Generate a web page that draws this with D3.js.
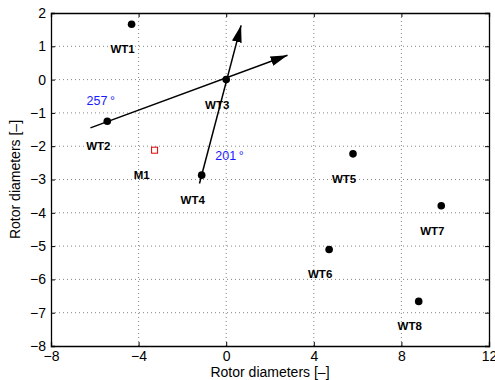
<!DOCTYPE html>
<html>
<head>
<meta charset="utf-8">
<script src="https://cdn.jsdelivr.net/npm/d3@7"></script>
<style>
  body { margin: 0; background: #fff; }
  text { font-family: "Liberation Sans", Arial, sans-serif; }
</style>
</head>
<body>
<svg id="chart" width="495" height="380"></svg>
<script>
// Turbine layout (rotor diameters)
const turbineNames = ['WT1', 'WT2', 'WT3', 'WT4', 'WT5', 'WT6', 'WT7', 'WT8'];
const turbineX = [-4.32, -5.43, 0, -1.12, 5.79, 4.70, 9.82, 8.79];
const turbineY = [1.66, -1.25, 0, -2.87, -2.23, -5.10, -3.79, -6.66];

// Met mast
const mastNames = ['M1'];
const mastX = [-3.27];
const mastY = [-2.12];

// Wind direction arrows
const arrowLabels = ['257', '201'];
const arrowStart = [[-6.2, -1.45], [-1.22, -3.12]];
const arrowEnd = [[2.8, 0.73], [0.68, 1.63]];
const arrowTextPos = [[-5.73, -0.62], [0.15, -2.27]];

// Axis ticks
const xTicks = [-8, -4, 0, 4, 8, 12];
const yTicks = [2, 1, 0, -1, -2, -3, -4, -5, -6, -7, -8];

const svg = d3.select('#chart');
const margin = {left: 51, right: 6, top: 13, bottom: 34};
const W = 495, H = 380;

const x = d3.scaleLinear().domain([-8, 12]).range([margin.left, W - margin.right]);
const y = d3.scaleLinear().domain([-8, 2]).range([H - margin.bottom, margin.top]);

// Dotted grid
svg.append('g').selectAll('line').data(xTicks.slice(1, -1)).join('line')
    .attr('x1', d => x(d)).attr('x2', d => x(d))
    .attr('y1', y(-8)).attr('y2', y(2))
    .attr('stroke', '#666').attr('stroke-width', 0.8).attr('stroke-dasharray', '1,3');
svg.append('g').selectAll('line').data(yTicks.slice(1, -1)).join('line')
    .attr('y1', d => y(d)).attr('y2', d => y(d))
    .attr('x1', x(-8)).attr('x2', x(12))
    .attr('stroke', '#666').attr('stroke-width', 0.8).attr('stroke-dasharray', '1,3');

// Axes with inward ticks (MATLAB style)
const fmt = d => d < 0 ? '\u2212' + Math.abs(d) : String(d);
svg.append('g').attr('transform', `translate(0,${y(-8)})`)
    .call(d3.axisBottom(x).tickValues(xTicks).tickSize(-4).tickPadding(5).tickFormat(fmt))
    .call(g => g.selectAll('text').attr('font-size', 14).attr('fill', '#000'));
svg.append('g').attr('transform', `translate(${x(-8)},0)`)
    .call(d3.axisLeft(y).tickValues(yTicks).tickSize(-4).tickPadding(5).tickFormat(fmt))
    .call(g => g.selectAll('text').attr('font-size', 14).attr('fill', '#000'));
svg.append('g').attr('transform', `translate(0,${y(2)})`)
    .call(d3.axisTop(x).tickValues(xTicks).tickSize(-4).tickFormat(''));
svg.append('g').attr('transform', `translate(${x(12)},0)`)
    .call(d3.axisRight(y).tickValues(yTicks).tickSize(-4).tickFormat(''));
svg.selectAll('.domain').attr('stroke', '#000').attr('stroke-width', 1.3);
svg.selectAll('.tick line').attr('stroke', '#000');

// Arrow head marker
svg.append('defs').append('marker')
    .attr('id', 'head')
    .attr('viewBox', '0 0 17 10')
    .attr('refX', 17).attr('refY', 5)
    .attr('markerWidth', 17).attr('markerHeight', 10)
    .attr('markerUnits', 'userSpaceOnUse')
    .attr('orient', 'auto')
  .append('path').attr('d', 'M0,0 L17,5 L0,10 Z').attr('fill', '#000');

svg.append('g').selectAll('line').data(arrowStart).join('line')
    .attr('x1', d => x(d[0])).attr('y1', d => y(d[1]))
    .attr('x2', (d, i) => x(arrowEnd[i][0])).attr('y2', (d, i) => y(arrowEnd[i][1]))
    .attr('stroke', '#000').attr('stroke-width', 1.5)
    .attr('marker-end', 'url(#head)');

const angleText = svg.append('g').selectAll('text').data(arrowLabels).join('text')
    .attr('x', (d, i) => x(arrowTextPos[i][0])).attr('y', (d, i) => y(arrowTextPos[i][1]))
    .attr('text-anchor', 'middle').attr('dy', '0.35em')
    .attr('font-size', 12.5).attr('fill', '#1a1aff');
angleText.append('tspan').text(d => d);
angleText.append('tspan').attr('dx', 2.5).text('\u00b0');

// Turbines
svg.append('g').selectAll('circle').data(turbineNames).join('circle')
    .attr('cx', (d, i) => x(turbineX[i])).attr('cy', (d, i) => y(turbineY[i]))
    .attr('r', 3.8).attr('fill', '#000');
svg.append('g').selectAll('text').data(turbineNames).join('text')
    .attr('x', (d, i) => x(turbineX[i] - 0.41)).attr('y', (d, i) => y(turbineY[i] - 0.75))
    .attr('text-anchor', 'middle').attr('dy', '0.35em')
    .attr('font-size', 11.5).attr('font-weight', 'bold')
    .text(d => d);

// Met mast
svg.append('g').selectAll('rect').data(mastNames).join('rect')
    .attr('x', (d, i) => x(mastX[i]) - 3).attr('y', (d, i) => y(mastY[i]) - 3)
    .attr('width', 6).attr('height', 6)
    .attr('fill', 'none').attr('stroke', '#e00000').attr('stroke-width', 1);
svg.append('g').selectAll('text').data(mastNames).join('text')
    .attr('x', (d, i) => x(mastX[i] - 0.59)).attr('y', (d, i) => y(mastY[i] - 0.75))
    .attr('text-anchor', 'middle').attr('dy', '0.35em')
    .attr('font-size', 11.5).attr('font-weight', 'bold')
    .text(d => d);

// Axis titles
svg.append('text')
    .attr('x', (x(-8) + x(12)) / 2).attr('y', 377)
    .attr('text-anchor', 'middle').attr('font-size', 14)
    .text('Rotor diameters [\u2013]');
svg.append('text')
    .attr('transform', `translate(20,${(y(-8) + y(2)) / 2}) rotate(-90)`)
    .attr('text-anchor', 'middle').attr('font-size', 14)
    .text('Rotor diameters [\u2013]');
</script>
</body>
</html>
